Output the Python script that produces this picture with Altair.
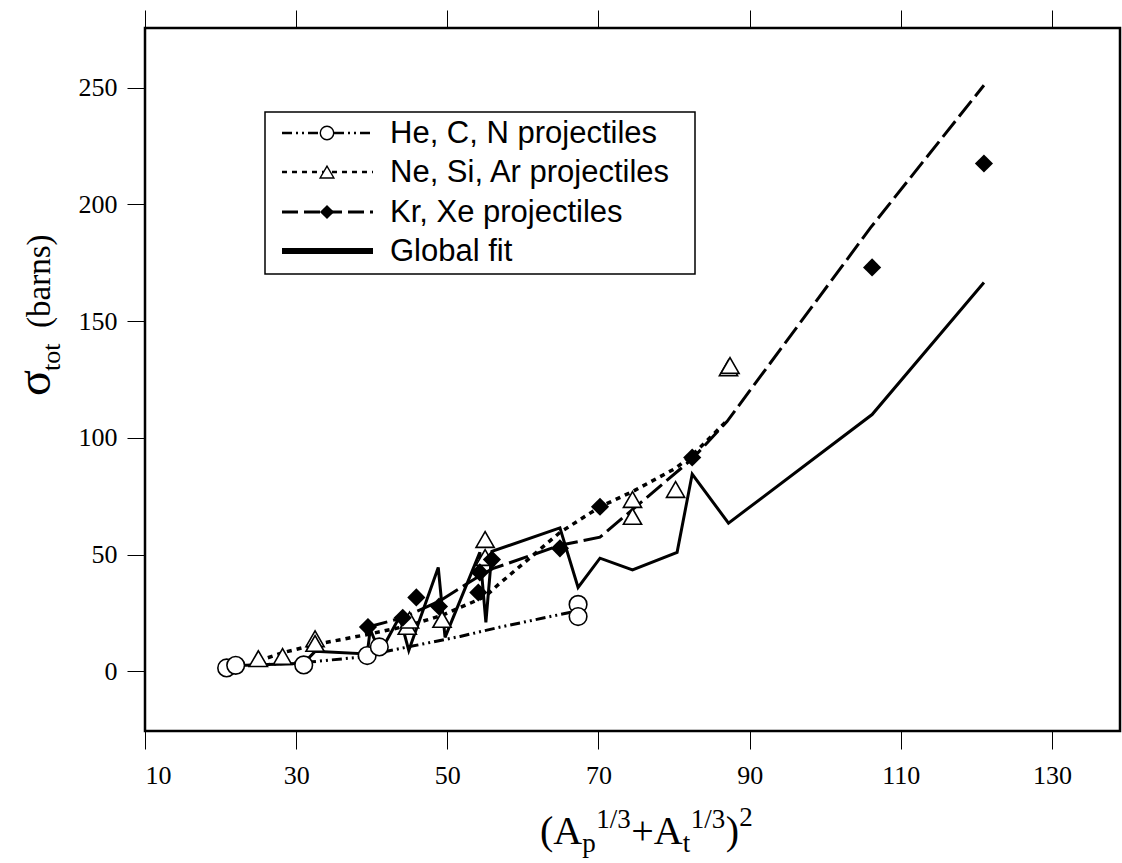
import altair as alt
import pandas as pd

# ---------------- data ----------------
he_x = [20.8, 22.0, 31.0, 39.4, 41.0, 67.3, 67.3]
he_y = [1.5, 2.6, 2.8, 6.8, 10.5, 28.7, 23.5]
he_line_x = [21.0, 22.0, 31.0, 39.4, 41.0, 51.7, 57.0, 67.3]
he_line_y = [2.0, 2.3, 3.8, 6.4, 8.0, 15.0, 19.0, 26.0]

ne_x = [25.0, 28.2, 32.5, 32.5, 44.7, 45.0, 49.3, 55.0, 55.0, 74.5, 74.5, 80.2, 87.2, 87.4]
ne_y = [5.5, 6.4, 14.0, 12.0, 19.3, 22.0, 22.3, 56.5, 48.8, 73.6, 66.4, 77.9, 130.0, 131.0]
ne_line_x = [25.0, 28.2, 32.5, 39.4, 44.7, 49.3, 55.0, 56.5, 64.9, 70.2, 74.5, 80.2, 82.2, 86.9]
ne_line_y = [4.5, 8.0, 11.5, 15.8, 19.5, 24.0, 32.0, 36.5, 59.5, 70.5, 77.0, 87.0, 92.0, 107.0]

kr_x = [39.5, 44.1, 45.9, 48.9, 54.3, 54.1, 55.9, 64.9, 70.2, 82.4, 106.2, 121.0]
kr_y = [19.0, 23.0, 31.7, 27.8, 42.4, 33.8, 47.9, 52.7, 70.5, 91.6, 173.0, 217.5]
kr_line_x = [39.5, 44.1, 48.9, 54.3, 56.0, 64.9, 70.2, 82.4, 87.0, 106.0, 121.0]
kr_line_y = [19.0, 23.0, 30.0, 41.0, 44.0, 54.0, 57.5, 91.0, 107.0, 190.0, 251.0]

fit_x = [20.8, 22.0, 31.0, 32.5, 39.4, 39.8, 41.1, 43.7, 44.9, 48.8, 49.7, 54.3,
         55.1, 55.9, 64.9, 67.3, 70.2, 74.5, 80.4, 82.4, 87.2, 106.2, 121.0]
fit_y = [2.0, 2.5, 3.5, 8.6, 7.5, 18.0, 8.0, 23.5, 9.0, 44.5, 14.6, 51.0,
         21.0, 51.4, 61.5, 36.0, 48.5, 43.5, 51.0, 84.5, 63.5, 110.0, 166.5]

x_ticks = [10, 30, 50, 70, 90, 110, 130]
y_ticks = [0, 50, 100, 150, 200, 250]
legend_labels = ["He, C, N projectiles", "Ne, Si, Ar projectiles",
                 "Kr, Xe projectiles", "Global fit"]

# ---------------- geometry / style ----------------
W, H = 975, 703
XDOM = [10, 139]
YDOM = [-25.5, 275.5]
SERIF = "Liberation Serif"
SANS = "Liberation Sans"

xs = alt.Scale(domain=XDOM, nice=False, zero=False)
ys = alt.Scale(domain=YDOM, nice=False, zero=False)


def df_line(xv, yv):
    return pd.DataFrame({"x": xv, "y": yv, "o": list(range(len(xv)))})


def line_layer(xv, yv, dash, width):
    kw = dict(color="black", strokeWidth=width, clip=True)
    if dash:
        kw["strokeDash"] = dash
    return alt.Chart(df_line(xv, yv)).mark_line(**kw).encode(
        x=alt.X("x:Q", scale=xs, axis=None),
        y=alt.Y("y:Q", scale=ys, axis=None),
        order="o:Q",
    )


def point_layer(xv, yv, shape, filled, size):
    return alt.Chart(pd.DataFrame({"x": xv, "y": yv})).mark_point(
        shape=shape, filled=filled, size=size, color="black",
        fill="black" if filled else "white", fillOpacity=1,
        strokeWidth=1.6, opacity=1,
    ).encode(
        x=alt.X("x:Q", scale=xs, axis=None),
        y=alt.Y("y:Q", scale=ys, axis=None),
    )


DASH_HE = [10, 4, 2, 4, 2, 4]
DASH_NE = [5, 5]
DASH_KR = [20, 6]

layers = [
    line_layer(he_line_x, he_line_y, DASH_HE, 3),
    line_layer(ne_line_x, ne_line_y, DASH_NE, 3.5),
    line_layer(kr_line_x, kr_line_y, DASH_KR, 3),
    line_layer(fit_x, fit_y, None, 3),
    point_layer(he_x, he_y, "circle", False, 310),
    point_layer(ne_x, ne_y, "triangle-up", False, 330),
    point_layer(kr_x, kr_y, "diamond", True, 330),
]

# axes (bottom + left with labels, top ticks only)
axis_df = pd.DataFrame({"x": [XDOM[0]], "y": [YDOM[0]]})
common_axis = dict(
    grid=False, domain=False, ticks=True, tickSize=18, tickColor="black",
    tickWidth=1, labelFont=SERIF, labelFontSize=26, labelColor="black",
    title=None,
)
bottom_left = alt.Chart(axis_df).mark_point(opacity=0).encode(
    x=alt.X("x:Q", scale=xs, axis=alt.Axis(orient="bottom", values=x_ticks,
                                           labelPadding=13, **common_axis)),
    y=alt.Y("y:Q", scale=ys, axis=alt.Axis(orient="left", values=y_ticks,
                                           labelPadding=10, **common_axis)),
)
top = alt.Chart(axis_df).mark_point(opacity=0).encode(
    x=alt.X("x:Q", scale=xs, axis=alt.Axis(orient="top", values=x_ticks,
                                           labels=False, **common_axis)),
    y=alt.Y("y:Q", scale=ys, axis=None),
)
layers += [bottom_left, top]

# ---------------- legend (drawn by hand) ----------------
one = pd.DataFrame({"a": [0]})
LX0, LX1, LY0, LY1 = 120, 550, 84, 246
rows = [105, 144, 184, 223]
layers.append(alt.Chart(one).mark_rect(fill="white", stroke="black", strokeWidth=1.5).encode(
    x=alt.value(LX0), x2=alt.value(LX1), y=alt.value(LY0), y2=alt.value(LY1)))

leg_specs = [
    (DASH_HE, 2.5, "circle", False, 180),
    (DASH_NE, 2.5, "triangle-up", False, 190),
    ([16, 6], 3, "diamond", True, 200),
    (None, 6, None, None, None),
]
for (dash, w, shape, filled, size), ry, lab in zip(leg_specs, rows, legend_labels):
    kw = dict(color="black", strokeWidth=w)
    if dash:
        kw["strokeDash"] = dash
    layers.append(alt.Chart(one).mark_rule(**kw).encode(
        x=alt.value(137), x2=alt.value(228), y=alt.value(ry)))
    if shape:
        layers.append(alt.Chart(one).mark_point(
            shape=shape, filled=filled, size=size, color="black",
            fill="black" if filled else "white", fillOpacity=1, strokeWidth=1.4,
            opacity=1).encode(x=alt.value(182), y=alt.value(ry)))
    layers.append(alt.Chart(one).mark_text(
        text=lab, font=SANS, fontSize=31, align="left", baseline="middle",
        color="black").encode(x=alt.value(245), y=alt.value(ry + 1)))


# ---------------- axis titles (composed text) ----------------
def txt(s, x, y, size, angle=0, align="left", baseline="alphabetic"):
    kw = dict(text=s, font=SERIF, fontSize=size, align=align,
              baseline=baseline, color="black")
    if angle:
        kw["angle"] = angle
    return alt.Chart(one).mark_text(**kw).encode(x=alt.value(x), y=alt.value(y))


# x title: (A_p^{1/3}+A_t^{1/3})^2
bx, by = 395, 816
big, small = 40, 27
pieces = [
    ("(A", 0, 0, big, 42.2),
    ("p", 0, 8, small, 14),
    ("1/3", 0, -16, small, 35),
    ("+A", 0, 0, big, 51.5),
    ("t", 0, 8, small, 8),
    ("1/3", 0, -16, small, 35),
    (")", 0, 0, big, 13.5),
    ("2", 0, -18, small, 13.5),
]
cx = bx
for s, dx, dy, fs, wdt in pieces:
    layers.append(txt(s, cx + dx, by + dy, fs))
    cx += wdt

# y title: sigma_tot (barns), rotated
layers.append(txt("σ", -95, 368, 48, angle=270, align="left"))
layers.append(txt("tot", -85, 343, 26, angle=270, align="left"))
layers.append(txt("(barns)", -95, 300, 33, angle=270, align="left"))

chart = alt.layer(*layers).resolve_axis(x="independent", y="independent").properties(
    width=W, height=H,
    autosize=alt.AutoSizeParams(type="none"),
    padding={"left": 145, "top": 28, "right": 2, "bottom": 132},
    background="white",
).configure_view(stroke="black", strokeWidth=2.5)

chart.save("out.html", embed_options={"renderer": "svg", "actions": False})
